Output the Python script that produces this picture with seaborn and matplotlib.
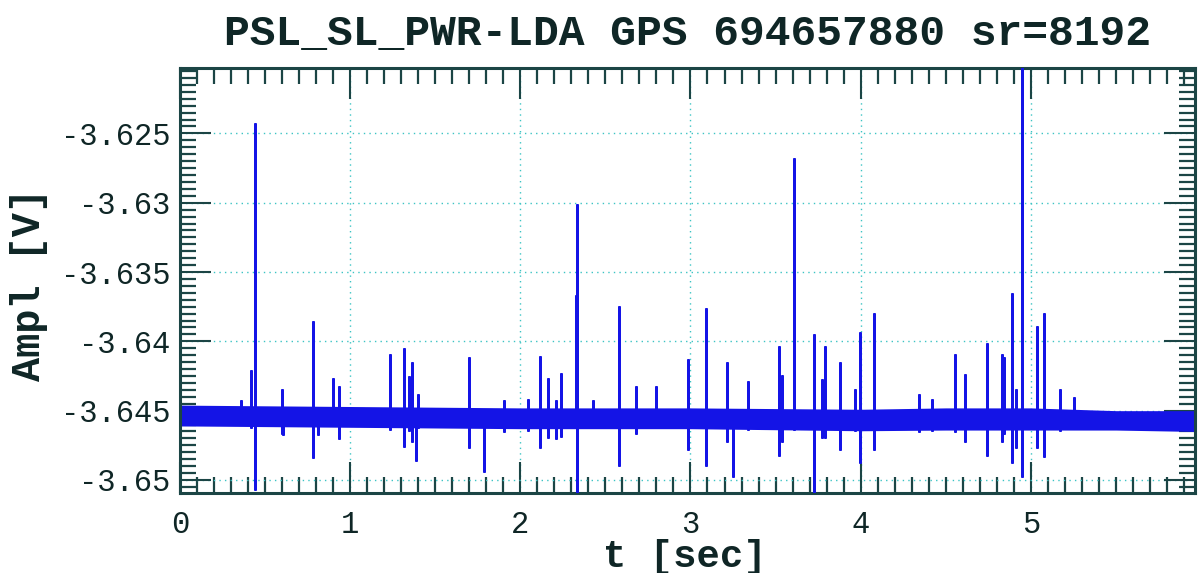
import numpy as np
import pandas as pd
import matplotlib
matplotlib.use("Agg")
import matplotlib.pyplot as plt
from matplotlib.ticker import MultipleLocator, FixedLocator, FixedFormatter
import seaborn as sns

# ---- data -------------------------------------------------------------
# transient glitches: time [s], maximum and minimum excursion [V]
spike_t = [0.360, 0.415, 0.441, 0.597, 0.606, 0.780, 0.809, 0.901, 0.936,
           1.234, 1.318, 1.345, 1.361, 1.385, 1.396, 1.700, 1.786, 1.906,
           2.043, 2.117, 2.160, 2.209, 2.238, 2.330, 2.336, 2.428, 2.581,
           2.677, 2.800, 2.983, 3.090, 3.212, 3.251, 3.340, 3.521, 3.535,
           3.610, 3.727, 3.770, 3.790, 3.878, 3.967, 3.995, 4.077, 4.342,
           4.420, 4.557, 4.616, 4.740, 4.832, 4.845, 4.890, 4.915, 4.951,
           5.037, 5.078, 5.170, 5.254]
spike_hi = [-3.6443, -3.64215, -3.62433, -3.64350, -3.6450, -3.63861, -3.6452,
            -3.64273, -3.64331, -3.64095, -3.64054, -3.64254, -3.64155, -3.6450,
            -3.64384, -3.64119, -3.6450, -3.6443, -3.6442, -3.64114, -3.64270,
            -3.6443, -3.64234, -3.63673, -3.63013, -3.6443, -3.63753, -3.64331,
            -3.64331, -3.64138, -3.63767, -3.64155, -3.6450, -3.64290, -3.64042,
            -3.6425, -3.62681, -3.63957, -3.6428, -3.64042, -3.64155, -3.6435,
            -3.63940, -3.63803, -3.6439, -3.6442, -3.64095, -3.6424, -3.64017,
            -3.64095, -3.6412, -3.63656, -3.6435, -3.6195, -3.63897, -3.63806,
            -3.64350, -3.64408]
spike_lo = [-3.6458, -3.6462, -3.65065, -3.64663, -3.6467, -3.64837, -3.6467,
            -3.6460, -3.6470, -3.64632, -3.64752, -3.6464, -3.6472, -3.64856,
            -3.6462, -3.6476, -3.64933, -3.6465, -3.6464, -3.6476, -3.6469,
            -3.6470, -3.6468, -3.6462, -3.6515, -3.6462, -3.64890, -3.6466,
            -3.6462, -3.64776, -3.64890, -3.6472, -3.64969, -3.6463, -3.64817,
            -3.6472, -3.6463, -3.6515, -3.6469, -3.6469, -3.6478, -3.6464,
            -3.64873, -3.6478, -3.6465, -3.6464, -3.6465, -3.6472, -3.6482,
            -3.64716, -3.6466, -3.64873, -3.6476, -3.64969, -3.6476, -3.6483,
            -3.6464, -3.6462]

# envelope of the background noise band
band_t = [0.0, 1.0, 2.0, 3.0, 4.0, 4.5, 5.0, 5.5, 5.965]
band_hi = [-3.6446, -3.6447, -3.6448, -3.6448, -3.6449, -3.6448, -3.6448, -3.6450, -3.6450]
band_lo = [-3.6461, -3.6462, -3.6463, -3.6463, -3.64645, -3.6464, -3.6464, -3.6464, -3.6465]
baseline = -3.6455

x_major = [0, 1, 2, 3, 4, 5]
x_tick_labels = ["0", "1", "2", "3", "4", "5"]
y_major = [-3.625, -3.63, -3.635, -3.64, -3.645, -3.65]
y_tick_labels = ["-3.625", "-3.63", "-3.635", "-3.64", "-3.645", "-3.65"]

title = "PSL_SL_PWR-LDA GPS 694657880 sr=8192"

# ---- build the glitch trace: baseline -> max -> min -> baseline ---------
tt, vv = [], []
for t, hi, lo in zip(spike_t, spike_hi, spike_lo):
    tt += [t, t, t, t]
    vv += [baseline, hi, lo, baseline]
trace = pd.DataFrame({"t": tt, "v": vv})

# ---- figure -----------------------------------------------------------
sns.set_style("white")
plt.rcParams["font.family"] = ["Liberation Mono", "DejaVu Sans Mono"]

BLUE = "#1414e6"
TICK = "#1b4545"
TEXT = "#0f2626"
GRID = "#3cc4c4"

fig = plt.figure(figsize=(11.98, 5.73), dpi=100)
ax = fig.add_axes([180 / 1198, 1 - 493 / 573, 1015 / 1198, 425 / 573])

ax.fill_between(band_t, band_lo, band_hi, color=BLUE, lw=0, zorder=2)
sns.lineplot(data=trace, x="t", y="v", sort=False, estimator=None,
             color=BLUE, lw=2.1, ax=ax, zorder=3)

ax.set_xlim(0, 5.965)
ax.set_ylim(-3.65094, -3.62028)

ax.xaxis.set_major_locator(FixedLocator(x_major))
ax.xaxis.set_major_formatter(FixedFormatter(x_tick_labels))
ax.xaxis.set_minor_locator(MultipleLocator(0.1))
ax.yaxis.set_major_locator(FixedLocator(y_major))
ax.yaxis.set_major_formatter(FixedFormatter(y_tick_labels))
ax.yaxis.set_minor_locator(MultipleLocator(0.0005))

ax.tick_params(which="both", direction="in", top=True, right=True,
               bottom=True, left=True, color=TICK)
ax.tick_params(which="major", length=22, width=1.5, labelsize=22,
               labelcolor=TEXT)
ax.tick_params(which="minor", length=11.5, width=1.6)
ax.tick_params(axis="x", which="major", pad=12)
ax.tick_params(axis="y", which="major", pad=7)

ax.grid(True, which="major", color=GRID, lw=1.0, linestyle=(0, (1, 3)))
ax.set_axisbelow(True)
for s in ax.spines.values():
    s.set_color(TICK)
    s.set_linewidth(2.2)
    s.set_visible(True)

ax.set_xlabel("t [sec]", fontsize=28, fontweight="bold", color=TEXT)
ax.set_ylabel("Ampl [V]", fontsize=29, fontweight="bold", color=TEXT)
ax.xaxis.set_label_coords(0.4975, -0.108)
ax.yaxis.set_label_coords(-0.13, 0.49)

fig.text(688 / 1198, 1 - 45 / 573, title, ha="center", va="baseline",
         fontsize=31, fontweight="bold", color=TEXT)

fig.savefig("out.png", dpi=100, facecolor="white")
